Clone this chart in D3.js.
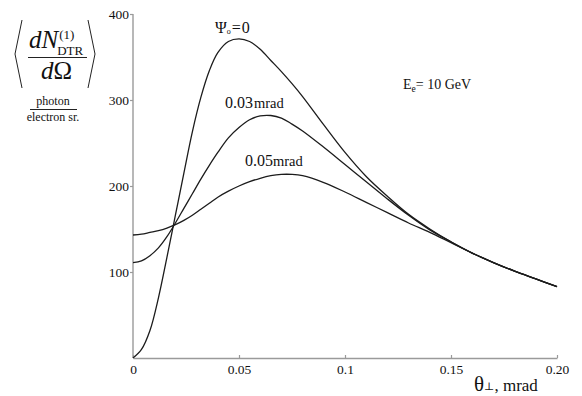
<!DOCTYPE html>
<html>
<head>
<meta charset="utf-8">
<script src="https://cdn.jsdelivr.net/npm/d3@7"></script>
<style>
  body { margin: 0; background: #fff; }
  svg { display: block; }
  svg text { font-family: "Liberation Serif", "DejaVu Serif", serif !important; fill: #111; }
</style>
</head>
<body>
<svg id="chart" width="582" height="396"></svg>
<script>
// ---- data ----
const theta = [0, 0.004, 0.008, 0.012, 0.016, 0.02, 0.024, 0.028, 0.032, 0.036, 0.04, 0.045, 0.05, 0.055, 0.06, 0.065, 0.07, 0.075, 0.08, 0.09, 0.1, 0.11, 0.12, 0.13, 0.14, 0.15, 0.16, 0.17, 0.18, 0.19, 0.2];
const psi0   = [0, 10, 32, 70, 117, 166, 215, 263, 303, 334, 355, 368, 371, 368, 359, 346, 333, 319, 304, 271, 239, 211, 188, 167, 150, 135, 122, 111, 101, 92, 83];
const psi003 = [111, 113, 119, 128, 141, 157, 174, 191, 208, 224, 239, 256, 268, 277, 281.5, 282, 279, 272, 264, 245, 225, 205, 185, 166, 149, 135, 122, 111, 101, 92, 83];
const psi005 = [143, 144, 146, 148, 151, 155, 160, 166, 173, 180, 187, 194, 200, 205, 209, 212, 213.5, 213.5, 212, 204, 193, 181, 169, 157, 146, 134, 122, 111, 101, 92, 83];
const xTicks = [0, 0.05, 0.1, 0.15, 0.2];
const xTickLabels = ["0", "0.05", "0.1", "0.15", "0.20"];
const yTicks = [100, 200, 300, 400];

const svg = d3.select("#chart");
const x = d3.scaleLinear().domain([0, 0.2]).range([133, 557]);
const y = d3.scaleLinear().domain([0, 400]).range([358, 14]);
const serif = '"Liberation Serif", "DejaVu Serif", serif';

// axes
const axisColor = "#9a9a9a";
const xAxis = d3.axisBottom(x).tickValues(xTicks).tickSizeInner(-3).tickSizeOuter(0)
  .tickFormat((d, i) => xTickLabels[i]);
const gx = svg.append("g").attr("transform", `translate(0,${y(0)})`).call(xAxis)
  .attr("font-family", null).style("font-family", serif);
gx.select(".domain").attr("stroke", axisColor).attr("stroke-width", 1.4);
gx.selectAll(".tick line").attr("stroke", axisColor).attr("stroke-width", 1.2);
gx.selectAll(".tick text").style("font-family", serif).attr("font-size", 13.5)
  .attr("fill", "#111").attr("y", 6).attr("dy", "0.71em");

const yAxis = d3.axisLeft(y).tickValues(yTicks).tickSizeInner(3).tickSizeOuter(0);
const gy = svg.append("g").attr("transform", `translate(${x(0)},0)`).call(yAxis)
  .attr("font-family", null).style("font-family", serif);
gy.select(".domain").attr("stroke", axisColor).attr("stroke-width", 1.4)
  .attr("d", `M0,${y(0)}V${y(400)}`);
gy.selectAll(".tick line").attr("stroke", axisColor).attr("stroke-width", 1.2);
gy.selectAll(".tick text").style("font-family", serif).attr("font-size", 13.5)
  .attr("fill", "#111").attr("x", -4);

// curves
const line = d3.line().x((d, i) => x(theta[i])).y(d => y(d)).curve(d3.curveCatmullRom.alpha(0.5));
[psi0, psi003, psi005].forEach(s => {
  svg.append("path").attr("d", line(s)).attr("fill", "none")
    .attr("stroke", "#1c1c1c").attr("stroke-width", 1.3);
});

// curve labels
const t1 = svg.append("text").attr("x", 215).attr("y", 33).attr("font-size", 16);
t1.append("tspan").text("Ψ");
t1.append("tspan").attr("font-size", 8).attr("dy", 1).text("o");
t1.append("tspan").attr("dy", -1).attr("dx", 1).text("=");
t1.append("tspan").attr("dx", 1).text("0");

const t2 = svg.append("text").attr("x", 225).attr("y", 108).attr("font-size", 16);
t2.append("tspan").text("0.03");
t2.append("tspan").attr("font-size", 14.5).attr("dx", 1).text("mrad");

const t3 = svg.append("text").attr("x", 245).attr("y", 166).attr("font-size", 16);
t3.append("tspan").text("0.05");
t3.append("tspan").attr("font-size", 14.5).text("mrad");

const t4 = svg.append("text").attr("x", 403).attr("y", 89).attr("font-size", 14);
t4.append("tspan").text("E");
t4.append("tspan").attr("font-size", 9.5).attr("dy", 3).text("e");
t4.append("tspan").attr("dy", -3).text("= 10 GeV");

// x-axis label
const xl = svg.append("text").attr("x", 474).attr("y", 391);
xl.append("tspan").attr("font-size", 21).text("θ");
xl.append("tspan").attr("font-size", 11).attr("dy", -1).text("⊥");
xl.append("tspan").attr("font-size", 17).attr("dy", 1).text(", mrad");

// y-axis label (bracketed fraction)
const br = d3.line();
svg.append("path").attr("d", br([[22, 20], [15, 54], [22, 88]])).attr("fill", "none").attr("stroke", "#222").attr("stroke-width", 1);
svg.append("path").attr("d", br([[88, 20], [95, 54], [88, 88]])).attr("fill", "none").attr("stroke", "#222").attr("stroke-width", 1);
const num = svg.append("text").attr("x", 29).attr("y", 48).attr("font-size", 25).attr("font-style", "italic").text("dN");
const nEnd = 29 + num.node().getComputedTextLength();
svg.append("text").attr("x", nEnd + 1).attr("y", 39).attr("font-size", 13).text("(1)");
svg.append("text").attr("x", nEnd - 1).attr("y", 55).attr("font-size", 13).text("DTR");
svg.append("line").attr("x1", 28).attr("x2", 87).attr("y1", 57.5).attr("y2", 57.5).attr("stroke", "#222").attr("stroke-width", 1);
const den = svg.append("text").attr("x", 41).attr("y", 79).attr("font-size", 25);
den.append("tspan").attr("font-style", "italic").text("d");
den.append("tspan").text("Ω");

svg.append("text").attr("x", 53).attr("y", 105).attr("font-size", 12).attr("text-anchor", "middle").text("photon");
svg.append("line").attr("x1", 30).attr("x2", 77).attr("y1", 109.5).attr("y2", 109.5).attr("stroke", "#222").attr("stroke-width", 1);
svg.append("text").attr("x", 53).attr("y", 121).attr("font-size", 12).attr("text-anchor", "middle").text("electron sr.");
</script>
</body>
</html>
